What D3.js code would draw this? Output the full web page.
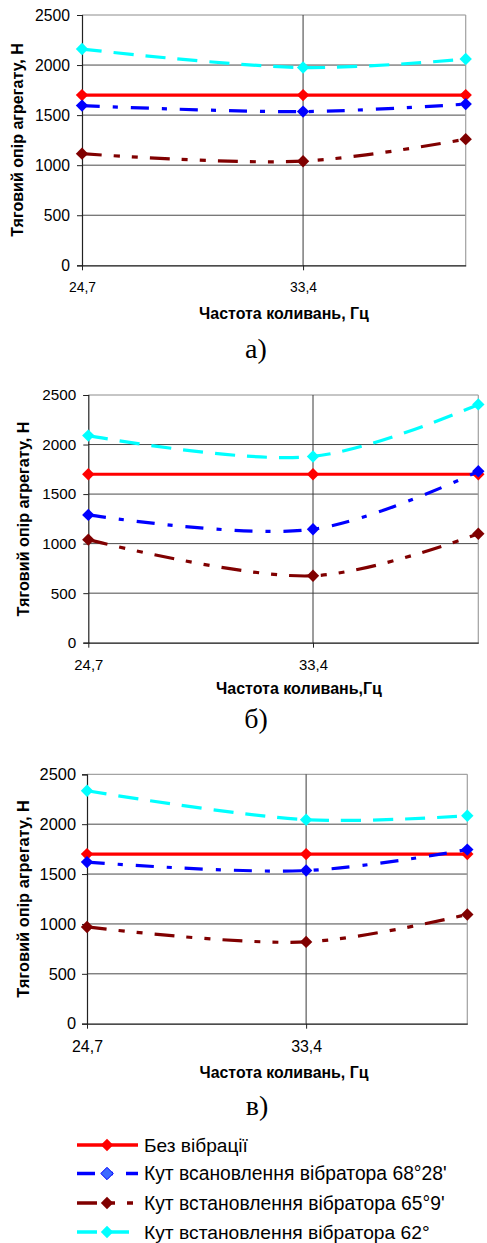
<!DOCTYPE html>
<html>
<head>
<meta charset="utf-8">
<script src="https://cdn.jsdelivr.net/npm/d3@7"></script>
<style>
  html, body { margin: 0; padding: 0; background: #fff; }
  svg { display: block; }
  text { font-family: Arial, "Liberation Sans", sans-serif; fill: #000; }
  text.serif { font-family: "Liberation Serif", "Times New Roman", serif; }
</style>
</head>
<body>
<svg id="chart" width="487" height="1243"></svg>
<script>
// ---------- data ----------
const xValues = [24.7, 33.4, 39.8];
const xTickValues = [24.7, 33.4];
const yTickValues = [0, 500, 1000, 1500, 2000, 2500];
const seriesNames = [
  "Без вібрації",
  "Кут всановлення вібратора 68°28'",
  "Кут встановлення вібратора 65°9'",
  "Кут встановлення вібратора 62°"
];
const panelLetters = ["а)", "б)", "в)"];
const xTitles = ["Частота коливань, Гц", "Частота коливань,Гц", "Частота коливань, Гц"];
const yTitle = "Тяговий опір агрегату, Н";

// panel а)
const aNoVibration = [1700, 1700, 1700];
const aAngle6828   = [1595, 1535, 1610];
const aAngle659    = [1115, 1040, 1260];
const aAngle62     = [2160, 1975, 2060];
// panel б)
const bNoVibration = [1700, 1700, 1700];
const bAngle6828   = [1290, 1145, 1730];
const bAngle659    = [1040, 675, 1100];
const bAngle62     = [2090, 1880, 2405];
// panel в)
const cNoVibration = [1700, 1700, 1700];
const cAngle6828   = [1620, 1535, 1745];
const cAngle659    = [970, 820, 1095];
const cAngle62     = [2335, 2045, 2085];

// ---------- styles ----------
const seriesColors = ["#ff0000", "#0000ff", "#800000", "#00ffff"];
const seriesDash = [null, "18,13,5,13", "20,12,6,12,6,12", "20,12"];
const legendMarkerFill = ["#ff0000", "#3d6bff", "#800000", "#00ffff"];

const panels = [
  { data: [aNoVibration, aAngle6828, aAngle659, aAngle62], x0: 82, x1: 465.7, yTop: 15, yBot: 265.3,
    yTitleX: 17, yTitleY: 140, yTitleW: 194, xTitleX: 284, xTitleY: 313, xTitleW: 170,
    yTickW: 35, xTickW: 27, yTickGap: 7, letterX: 256, letterY: 350 },
  { data: [bNoVibration, bAngle6828, bAngle659, bAngle62], x0: 88.3, x1: 478.3, yTop: 395, yBot: 642.7,
    yTitleX: 23, yTitleY: 519, yTitleW: 195, xTitleX: 299, xTitleY: 688, xTitleW: 166,
    yTickW: 34, xTickW: 29, yTickGap: 7, letterX: 256, letterY: 720 },
  { data: [cNoVibration, cAngle6828, cAngle659, cAngle62], x0: 87, x1: 467.3, yTop: 774.3, yBot: 1023.7,
    yTitleX: 23, yTitleY: 899, yTitleW: 198, xTitleX: 284, xTitleY: 1072, xTitleW: 169,
    yTickW: 36.5, xTickW: 31, yTickGap: 6, letterX: 257, letterY: 1107 }
];

const svg = d3.select("#chart");
const loc = d3.formatLocale({ decimal: ",", thousands: "", grouping: [3], currency: ["", ""] });
const fmtX = loc.format(".1f");
const diamond = "M0,-6.2L6.2,0L0,6.2L-6.2,0Z";

// scale font size of a text so it reaches the target width
function fit(sel, base, target) {
  sel.attr("font-size", base);
  const w = sel.node().getComputedTextLength();
  const fs = w > 0 ? base * target / w : base;
  sel.attr("font-size", fs);
  return fs;
}

panels.forEach((p, pi) => {
  const x = d3.scaleLinear().domain([24.7, 39.8]).range([p.x0, p.x1]);
  const y = d3.scaleLinear().domain([0, 2500]).range([p.yBot, p.yTop]);
  const g = svg.append("g");

  // horizontal gridlines
  g.append("g").selectAll("line").data(yTickValues.filter(v => v > 0)).join("line")
    .attr("x1", x(24.7)).attr("x2", x(39.8))
    .attr("y1", d => y(d)).attr("y2", d => y(d))
    .attr("stroke", d => d === 2500 ? "#8c8c8c" : "#4a4a4a").attr("stroke-width", 1);
  // vertical gridline(s)
  g.append("g").selectAll("line").data(xTickValues.slice(1)).join("line")
    .attr("x1", d => x(d)).attr("x2", d => x(d))
    .attr("y1", y(2500)).attr("y2", y(0))
    .attr("stroke", "#3a3a3a").attr("stroke-width", 1);
  // right border
  g.append("line").attr("x1", x(39.8)).attr("x2", x(39.8)).attr("y1", y(2500)).attr("y2", y(0))
    .attr("stroke", "#a0a0a0").attr("stroke-width", 1.2);

  // axes
  const yAxis = d3.axisLeft(y).tickValues(yTickValues).tickFormat(d3.format("d")).tickSize(5).tickPadding(p.yTickGap);
  const yG = g.append("g").attr("transform", `translate(${x(24.7)},0)`).call(yAxis);
  yG.select(".domain").attr("stroke", "#222").attr("stroke-width", 1.2);
  yG.selectAll(".tick line").attr("stroke", "#222");
  const yTexts = yG.selectAll("text");
  const yfs = fit(yTexts.filter(d => d === 2500), 15, p.yTickW);
  yTexts.attr("font-size", yfs);

  const xAxis = d3.axisBottom(x).tickValues(xTickValues).tickFormat(fmtX).tickSize(5).tickPadding(12).tickSizeOuter(0);
  const xG = g.append("g").attr("transform", `translate(0,${y(0)})`).call(xAxis);
  xG.select(".domain").attr("stroke", "#111").attr("stroke-width", 1.2);
  xG.selectAll(".tick line").attr("stroke", "#222");
  const xTexts = xG.selectAll("text");
  const xfs = fit(xTexts.filter(d => d === 24.7), 14, p.xTickW);
  xTexts.attr("font-size", xfs);

  // series
  const line = d3.line().x((d, i) => x(xValues[i])).y(d => y(d)).curve(d3.curveCatmullRom.alpha(0.5));
  p.data.forEach((vals, si) => {
    const sg = g.append("g");
    sg.append("path").attr("d", line(vals)).attr("fill", "none")
      .attr("stroke", seriesColors[si]).attr("stroke-width", 3.2)
      .attr("stroke-dasharray", seriesDash[si]);
    sg.selectAll("path.m").data(vals).join("path").attr("class", "m")
      .attr("d", diamond)
      .attr("transform", (d, i) => `translate(${x(xValues[i])},${y(d)})`)
      .attr("fill", seriesColors[si]);
  });

  // titles
  const yt = g.append("text").attr("transform", `translate(${p.yTitleX},${p.yTitleY}) rotate(-90)`)
    .attr("text-anchor", "middle").attr("dy", "0.35em")
    .attr("font-weight", "bold").text(yTitle);
  fit(yt, 14, p.yTitleW);
  const xt = g.append("text").attr("x", p.xTitleX).attr("y", p.xTitleY).attr("dy", "0.35em")
    .attr("text-anchor", "middle").attr("font-weight", "bold").text(xTitles[pi]);
  fit(xt, 14, p.xTitleW);
  g.append("text").attr("class", "serif").attr("x", p.letterX).attr("y", p.letterY).attr("dy", "0.3em")
    .attr("text-anchor", "middle").attr("font-size", 28).text(panelLetters[pi]);
});

// ---------- legend ----------
const legendY = [1145, 1173.5, 1203, 1232];
const legendW = [104, 303, 301, 286];
const lg = svg.append("g");
seriesNames.forEach((name, i) => {
  const row = lg.append("g").attr("transform", `translate(0,${legendY[i]})`);
  row.append("line").attr("x1", 77).attr("x2", 138).attr("y1", 0).attr("y2", 0)
    .attr("stroke", seriesColors[i]).attr("stroke-width", 3.5)
    .attr("stroke-dasharray", seriesDash[i]);
  row.append("path").attr("d", diamond).attr("transform", "translate(107,0)")
    .attr("fill", legendMarkerFill[i]).attr("stroke", i === 1 ? "#0000ff" : "none").attr("stroke-width", 1);
  const t = row.append("text").attr("x", 144).attr("y", 0).attr("dy", "0.36em").text(name);
  fit(t, 18, legendW[i]);
});
</script>
</body>
</html>
